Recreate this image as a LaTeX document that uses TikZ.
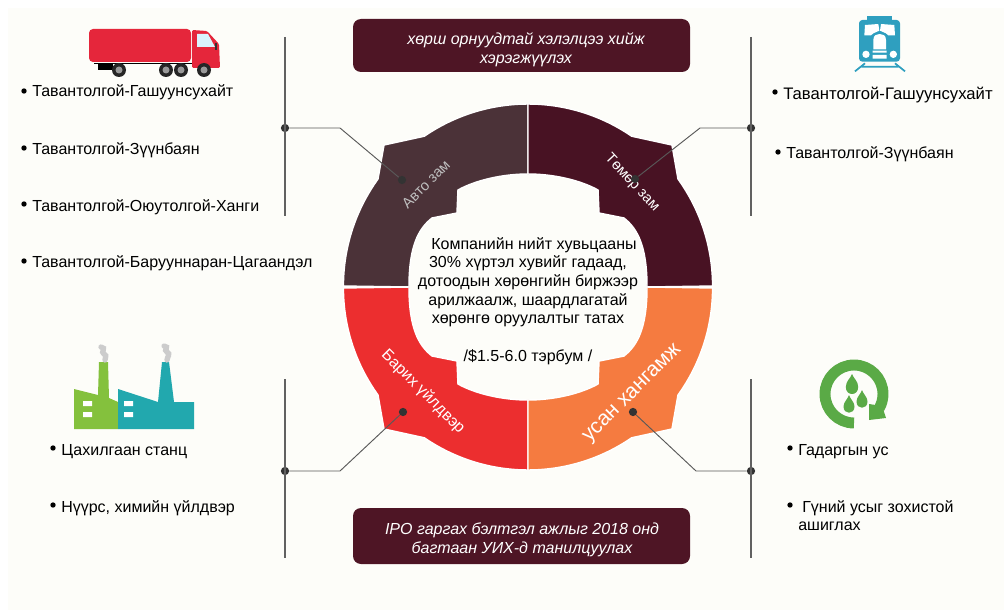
\documentclass[tikz,border=0pt]{standalone}
\usepackage{fontspec}
\setmainfont{Liberation Sans}
\definecolor{bgpage}{HTML}{FDFDF9}
\definecolor{maroon}{HTML}{4E1525}
\definecolor{autocol}{HTML}{4B3238}
\definecolor{railcol}{HTML}{481223}
\definecolor{plantcol}{HTML}{EC2E2F}
\definecolor{watercol}{HTML}{F57B40}
\definecolor{truckcol}{HTML}{E5263B}
\definecolor{traincol}{HTML}{2F9FBF}
\definecolor{factgreen}{HTML}{84C13D}
\definecolor{factteal}{HTML}{22A8AE}
\definecolor{cyclecol}{HTML}{5AAA46}
\tikzset{
  listitem/.style={anchor=base west,inner sep=0pt,text=black,font=\fontsize{12}{14}\selectfont},
  bullet/.style={circle,fill=black,inner sep=0pt,minimum size=4pt},
  msgbox/.style={fill=maroon,rounded corners=6pt,minimum width=252.75pt,inner sep=0pt},
  msgtext/.style={text=white,align=center,inner sep=0pt,font=\fontsize{12}{14.2}\selectfont\itshape},
  ringlabel/.style={text=white,inner sep=0pt,font=\fontsize{11}{13}\selectfont},
  leader/.style={draw=black!62,line width=1.2pt},
  branch/.style={draw=black!65,line width=.7pt},
  joint/.style={circle,fill=black!80,inner sep=0pt,minimum size=6.2pt},
}
% one quarter of the ring, drawn for the lower right and mirrored
\newcommand{\ringquad}[3]{
  \begin{scope}[shift={(528,287)},xscale=#1,yscale=#2]
    \draw[white,line width=1.1pt,fill=#3] (0,183) arc[start angle=90,end angle=55.5,radius=183]
      -- (144,142) -- (150,108) arc[start angle=35.8,end angle=0,radius=183]
      -- (119,0) .. controls (119,40) and (110,58) .. (96,69)
      -- (71,74) -- (70,97) .. controls (52,107) and (25,113) .. (0,113) -- cycle;
  \end{scope}
}
\newcommand{\waterdrop}[3]{
  \fill[cyclecol] (#1,#2) .. controls (#1+1.2,#2+4) and (#1+#3,#2+7) .. (#1+#3,#2+2.1*#3)
    .. controls (#1+#3,#2+3.6*#3) and (#1-#3,#2+3.6*#3) .. (#1-#3,#2+2.1*#3)
    .. controls (#1-#3,#2+7) and (#1-1.2,#2+4) .. (#1,#2) -- cycle;
}
\begin{document}
\begin{tikzpicture}[x=.75pt,y=-.75pt]
  \useasboundingbox (0,0) rectangle (1004,610);
  \fill[white] (0,0) rectangle (1004,610);
  \fill[bgpage] (8,8) rectangle (1004,610);

  % ring
  \ringquad{-1}{-1}{autocol}
  \ringquad{1}{-1}{railcol}
  \ringquad{-1}{1}{plantcol}
  \ringquad{1}{1}{watercol}
  \node[ringlabel,text=black!25!white,rotate=45] (autolabel) at (426,184) {Авто зам};
  \node[ringlabel,rotate=-47] (raillabel) at (632,183) {Төмөр зам};
  \node[ringlabel,rotate=-45,font=\fontsize{12}{14}\selectfont] (plantlabel) at (423,392) {Барих үйлдвэр};
  \node[ringlabel,rotate=45,font=\fontsize{15.7}{18}\selectfont] (waterlabel) at (633,394) {усан хангамж};

  % centre
  \node[align=center,inner sep=0pt,font=\fontsize{12}{14}\selectfont] (centretext) at (528,301)
    {\hspace*{9pt}Компанийн нийт хувьцааны\\30\% хүртэл хувийг гадаад,\\дотоодын хөрөнгийн биржээр\\
     арилжаалж, шаардлагатай\\хөрөнгө оруулалтыг татах\\[14pt]/\$1.5-6.0 тэрбум /};

  % boxes
  \node[msgbox,minimum height=39.75pt] (topbox) at (521.5,45.5) {};
  \node[msgtext] (toptext) at (526,50) {хөрш орнуудтай хэлэлцээ хийж\\хэрэгжүүлэх};
  \node[msgbox,minimum height=42pt] (botbox) at (521.5,536) {};
  \node[msgtext] (bottext) at (522,539.5) {IPO гаргах бэлтгэл ажлыг 2018 онд\\багтаан УИХ-д танилцуулах};

  % connectors
  \coordinate (autotop) at (285,37);
  \coordinate (autobot) at (285,216);
  \coordinate (autoelbow) at (340,128);
  \node[joint] (autojoint) at (285,128) {};
  \node[joint] (autodot) at (402,180) {};
  \draw[leader] (autotop) -- (autobot);
  \draw[branch] (autojoint) -- (autoelbow) -- (autodot);

  \coordinate (railtop) at (751,37);
  \coordinate (railbot) at (751,216);
  \coordinate (railelbow) at (700,128);
  \node[joint] (railjoint) at (751,128) {};
  \node[joint] (raildot) at (635,179) {};
  \draw[leader] (railtop) -- (railbot);
  \draw[branch] (railjoint) -- (railelbow) -- (raildot);

  \coordinate (planttop) at (285,379);
  \coordinate (plantbot) at (285,558);
  \coordinate (plantelbow) at (340,471);
  \node[joint] (plantjoint) at (285,471) {};
  \node[joint] (plantdot) at (403,412) {};
  \draw[leader] (planttop) -- (plantbot);
  \draw[branch] (plantjoint) -- (plantelbow) -- (plantdot);

  \coordinate (watertop) at (751,379);
  \coordinate (waterbot) at (751,558);
  \coordinate (waterelbow) at (696,471);
  \node[joint] (waterjoint) at (751,471) {};
  \node[joint] (waterdot) at (633,412) {};
  \draw[leader] (watertop) -- (waterbot);
  \draw[branch] (waterjoint) -- (waterelbow) -- (waterdot);

  % lists
  \node[bullet] (a1) at (24,91) {};
  \node[listitem] (autoa) at (32,97) {Тавантолгой-Гашуунсухайт};
  \node[bullet] (a2) at (24,148) {};
  \node[listitem] (autob) at (32,154) {Тавантолгой-Зүүнбаян};
  \node[bullet] (a3) at (24,204) {};
  \node[listitem] (autoc) at (32,211) {Тавантолгой-Оюутолгой-Ханги};
  \node[bullet] (a4) at (24,261) {};
  \node[listitem] (autod) at (32,267) {Тавантолгой-Барууннаран-Цагаандэл};

  \node[bullet] (r1) at (775,92) {};
  \node[listitem,font=\fontsize{12.5}{14}\selectfont] (raila) at (783,99) {Тавантолгой-Гашуунсухайт};
  \node[bullet] (r2) at (778,152) {};
  \node[listitem] (railb) at (786,158) {Тавантолгой-Зүүнбаян};

  \node[bullet] (p1) at (53,448) {};
  \node[listitem] (planta) at (61,455) {Цахилгаан станц};
  \node[bullet] (p2) at (53,505) {};
  \node[listitem] (plantb) at (61,512) {Нүүрс, химийн үйлдвэр};

  \node[bullet] (w1) at (790,448) {};
  \node[listitem] (watera) at (798,455) {Гадаргын ус};
  \node[bullet] (w2) at (790,505) {};
  \node[listitem] (waterb) at (802,512) {Гүний усыг зохистой};
  \node[listitem] (waterc) at (798,530) {ашиглах};

  % truck
  \fill[truckcol,rounded corners=3pt] (89,29) rectangle (191,62);
  \fill[truckcol,rounded corners=1pt] (192,30) -- (207,31) -- (219,44) -- (220,68) -- (192,68) -- cycle;
  \fill[white!85!cyan] (197,34) -- (208,34) -- (215,47) -- (197,47) -- cycle;
  \fill[black!80] (215,43) rectangle (217,50);
  \fill[black] (94,63) rectangle (192,64.5);
  \fill[black] (98,63) rectangle (113,70);
  \fill[black!85] (119,70) circle(7) (166,70) circle(7) (181,70) circle(7) (204,70) circle(7);
  \fill[black!40] (119,70) circle(3.5) (166,70) circle(3.5) (181,70) circle(3.5) (204,70) circle(3.5);

  % train
  \begin{scope}[shift={(845,10)},scale=.3333]
    \fill[traincol,rounded corners=2.5pt] (42,30) rectangle (165,155);
    \fill[traincol] (65,18) rectangle (140,30);
    \fill[white] (60,45) -- (100,42) -- (103,62) -- (85,70) -- (78,76) -- (58,76) -- cycle;
    \fill[white] (148,45) -- (108,42) -- (105,62) -- (123,70) -- (130,76) -- (150,76) -- cycle;
    \fill[white] (85,118) -- (85,90) .. controls (85,75) and (95,72) .. (104,72)
      .. controls (113,72) and (123,75) .. (123,90) -- (123,118) -- cycle;
    \fill[white] (63,133) circle(11) (145,133) circle(11);
    \fill[white] (83,122) rectangle (125,128) (83,135) rectangle (125,146);
    \draw[traincol,line width=1.3pt] (30,184) -- (60,160) (180,184) -- (150,160) (50,170) -- (160,170);
  \end{scope}

  % factory
  \fill[factgreen] (74,389) -- (98,395) -- (99,362) -- (108,362) -- (109,398) -- (118,402)
    -- (118,429) -- (74,429) -- cycle;
  \fill[factteal] (118,389) -- (158,402) -- (162,362) -- (169,362) -- (174,402) -- (194,402)
    -- (194,429) -- (118,429) -- cycle;
  \fill[white] (83,401) rectangle (92,406) (83,412) rectangle (92,417)
    (124,401) rectangle (133,406) (124,412) rectangle (133,417);
  \draw[black!20,line width=4pt,line cap=round] (101,347) .. controls (107,348) and (100,352) .. (104,354)
    .. controls (108,356) and (104,358) .. (105,360);
  \draw[black!20,line width=4pt,line cap=round] (164,346) .. controls (170,347) and (163,350) .. (167,352)
    .. controls (171,354) and (167,357) .. (167,360);

  % water
  \draw[cyclecol,line width=8.2pt] (854,423) arc[start angle=90,delta angle=300,radius=29];
  \fill[cyclecol] (869,404) -- (869,420) -- (886,418) -- (882,406) -- cycle;
  \waterdrop{852}{374}{6.2}
  \waterdrop{849}{395}{5.5}
  \waterdrop{862}{390}{5.5}
\end{tikzpicture}
\end{document}
